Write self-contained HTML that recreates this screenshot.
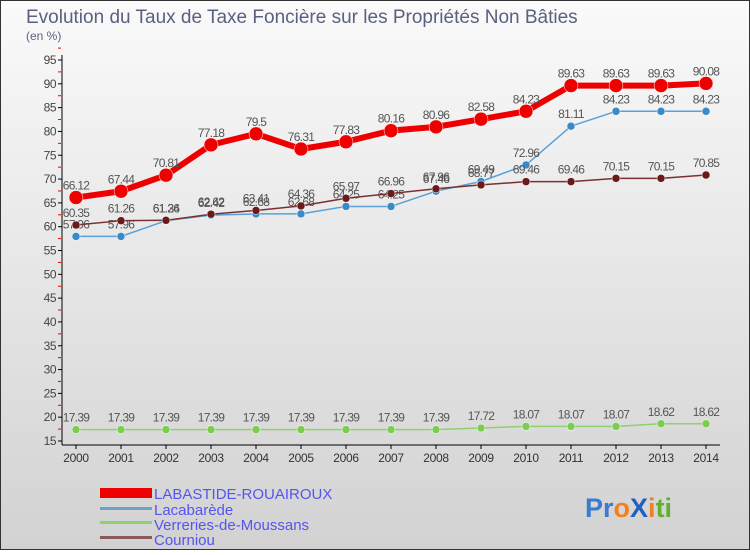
<!DOCTYPE html>
<html><head><meta charset="utf-8"><style>
body{margin:0;width:750px;height:550px;overflow:hidden;font-family:"Liberation Sans",sans-serif}
</style></head><body>
<svg width="750" height="550" xmlns="http://www.w3.org/2000/svg">
<defs>
<linearGradient id="bg" x1="0" y1="0" x2="0" y2="1"><stop offset="0" stop-color="#fafafa"/><stop offset="1" stop-color="#d2d2d2"/></linearGradient>
</defs>
<rect x="0.5" y="0.5" width="749" height="549" fill="url(#bg)" stroke="#333"/>
<text x="26" y="23" font-size="19" fill="#5a6080">Evolution du Taux de Taxe Foncière sur les Propriétés Non Bâties</text>
<text x="26" y="40" font-size="12" fill="#5a6080">(en %)</text>
<g id="axes"></g>
<g id="series"></g>
<g>
<rect x="100" y="488" width="52" height="10" fill="#e00"/>
<text x="154" y="499" font-size="15" fill="#5555ee">LABASTIDE-ROUAIROUX</text>
<rect x="100" y="507" width="52" height="3" fill="#6fa0c8"/>
<text x="154" y="515" font-size="15" fill="#5555ee">Lacabarède</text>
<rect x="100" y="521" width="52" height="3" fill="#8fd070"/>
<text x="154" y="530" font-size="15" fill="#5555ee">Verreries-de-Moussans</text>
<rect x="100" y="536" width="52" height="3" fill="#8a5a5a"/>
<text x="154" y="545" font-size="15" fill="#5555ee">Courniou</text>
</g>
<text x="585" y="517" font-size="27" font-weight="bold"><tspan fill="#3a7ad0">Pr</tspan><tspan fill="#f08020">o</tspan><tspan fill="#2060c0">X</tspan><tspan fill="#f08020">i</tspan><tspan fill="#60b030">ti</tspan></text>
</svg>
<script>
const years=[2000,2001,2002,2003,2004,2005,2006,2007,2008,2009,2010,2011,2012,2013,2014];
const labastide=[66.12,67.44,70.81,77.18,79.5,76.31,77.83,80.16,80.96,82.58,84.23,89.63,89.63,89.63,90.08];
const lacabarede=[57.96,57.96,61.26,62.42,62.68,62.68,64.25,64.25,67.46,69.49,72.96,81.11,84.23,84.23,84.23];
const verreries=[17.39,17.39,17.39,17.39,17.39,17.39,17.39,17.39,17.39,17.72,18.07,18.07,18.07,18.62,18.62];
const courniou=[60.35,61.26,61.34,62.62,63.41,64.36,65.97,66.96,67.96,68.77,69.46,69.46,70.15,70.15,70.85];
const yTicks=[15,20,25,30,35,40,45,50,55,60,65,70,75,80,85,90,95];
const NS="http://www.w3.org/2000/svg";
const X=i=>76+i*45;
const Y=v=>441-(v-15)*(381/80);
function mk(parent,tag,attrs){const e=document.createElementNS(NS,tag);for(const k in attrs)e.setAttribute(k,attrs[k]);parent.appendChild(e);return e;}
const ax=document.getElementById('axes');
let l=mk(ax,'line',{x1:62,y1:55,x2:62,y2:445,stroke:'#000'});


l=mk(ax,'line',{x1:62,y1:445,x2:720,y2:445,stroke:'#000'});


yTicks.forEach(v=>{
 const t=mk(ax,'text',{x:56,y:Y(v)+4,'font-size':12,fill:'#444','text-anchor':'end','letter-spacing':'-0.5'});t.textContent=v;
 
 
 mk(ax,'line',{x1:58,y1:Y(v),x2:62,y2:Y(v),stroke:'#000'});
 mk(ax,'line',{x1:58,y1:Y(v+2.5),x2:61,y2:Y(v+2.5),stroke:'#e00'});
});
years.forEach((yr,i)=>{
 const t=mk(ax,'text',{x:X(i),y:462,'font-size':12,fill:'#333','text-anchor':'middle','letter-spacing':'-0.3'});t.textContent=yr;
 
 
 mk(ax,'line',{x1:X(i),y1:445,x2:X(i),y2:449,stroke:'#000'});
});
const sg=document.getElementById('series');
function draw(name,data,color,w,r,dot){
 const g=mk(sg,'g',{});
 
 
 const p=mk(g,'polyline',{points:data.map((v,i)=>X(i)+','+Y(v)).join(' '),fill:'none',stroke:color,'stroke-width':w,'stroke-linejoin':'round'});
 
 
 data.forEach((v,i)=>{
  const c=mk(g,'circle',{cx:X(i),cy:Y(v),r:r,fill:dot,stroke:'#fff','stroke-width':0.5});
  
  
  const t=mk(g,'text',{x:X(i),y:Y(v)-8,'font-size':12,fill:'#555','text-anchor':'middle','letter-spacing':'-0.7'});
  t.textContent=v;
  
  
 });
}
draw('verreries',verreries,'#8fd070',1.5,4,'#7ccc50');
draw('lacabarede',lacabarede,'#5aa0d8',1.5,4,'#3a8ac8');
draw('courniou',courniou,'#7a3030',1.5,4,'#6a1a1a');
draw('labastide',labastide,'#ee0000',6,7,'#ee0000');
</script>
</body></html>
